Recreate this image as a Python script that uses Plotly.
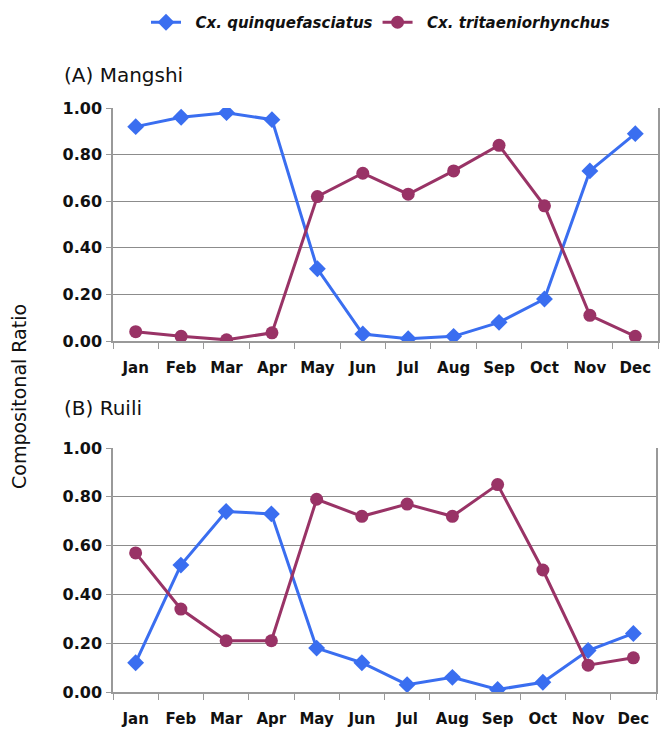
import plotly.graph_objects as go

months = ["Jan", "Feb", "Mar", "Apr", "May", "Jun", "Jul", "Aug", "Sep", "Oct", "Nov", "Dec"]
mangshi_quinq = [0.92, 0.96, 0.98, 0.95, 0.31, 0.03, 0.01, 0.02, 0.08, 0.18, 0.73, 0.89]
mangshi_trit = [0.04, 0.02, 0.005, 0.035, 0.62, 0.72, 0.63, 0.73, 0.84, 0.58, 0.11, 0.02]
ruili_quinq = [0.12, 0.52, 0.74, 0.73, 0.18, 0.12, 0.03, 0.06, 0.01, 0.04, 0.17, 0.24]
ruili_trit = [0.57, 0.34, 0.21, 0.21, 0.79, 0.72, 0.77, 0.72, 0.85, 0.50, 0.11, 0.14]
yticks = [0, 0.2, 0.4, 0.6, 0.8, 1.0]
ytick_labels = ["0.00", "0.20", "0.40", "0.60", "0.80", "1.00"]

BLUE = "#3a6ef0"
PURPLE = "#993366"
W, H = 670, 737
OFF = 8  # page body margin offset
FONT = "DejaVu Sans, Arial, sans-serif"

def py(p):
    return 1 - (p - OFF) / H

def px_(p):
    return (p - OFF) / W

fig = go.Figure()
series = [
    ("x", "y", mangshi_quinq, mangshi_trit, True),
    ("x2", "y2", ruili_quinq, ruili_trit, False),
]
for xa, ya, q, t, show in series:
    fig.add_trace(go.Scatter(x=months, y=q, xaxis=xa, yaxis=ya, mode="lines+markers",
                             name="&nbsp;&nbsp;<b><i>Cx. quinquefasciatus</i></b>", showlegend=show,
                             line=dict(color=BLUE, width=3),
                             marker=dict(symbol="diamond", size=13, color=BLUE)))
    fig.add_trace(go.Scatter(x=months, y=t, xaxis=xa, yaxis=ya, mode="lines+markers",
                             name="&nbsp;&nbsp;<b><i>Cx. tritaeniorhynchus</i></b>", showlegend=show,
                             line=dict(color=PURPLE, width=3),
                             marker=dict(symbol="circle", size=13, color=PURPLE)))

xfont = dict(family=FONT, size=15, color="#111", weight="bold")
yfont = dict(family=FONT, size=16, color="#111", weight="bold")
xcommon = dict(type="category", categoryorder="array", categoryarray=months,
               tickson="boundaries", ticks="outside", ticklen=6, tickcolor="#999",
               showline=True, linecolor="#999", linewidth=1.5, mirror=False,
               showgrid=False, tickfont=xfont, ticklabelstandoff=12,
               range=[-0.5, 11.5], fixedrange=True, automargin=False)
ycommon = dict(range=[0, 1.0], tickvals=yticks, ticktext=ytick_labels,
               ticks="outside", ticklen=5, tickcolor="#999",
               showline=True, linecolor="#999", linewidth=1.5, mirror=True,
               showgrid=True, gridcolor="#8c8c8c", gridwidth=1, zeroline=False,
               tickfont=yfont, ticklabelstandoff=1, automargin=False)

fig.update_layout(
    width=W, height=H,
    margin=dict(l=0, r=0, t=0, b=0, autoexpand=False),
    paper_bgcolor="white", plot_bgcolor="white",
    font=dict(family=FONT, color="#111"),
    xaxis=dict(domain=[px_(113), px_(658)], anchor="y", **xcommon),
    yaxis=dict(domain=[py(341), py(108)], anchor="x", **ycommon),
    xaxis2=dict(domain=[px_(113), px_(656)], anchor="y2", **xcommon),
    yaxis2=dict(domain=[py(692), py(448)], anchor="x2", **ycommon),
    legend=dict(orientation="h", x=px_(146), xanchor="left", y=py(6), yanchor="top",
                font=dict(size=15, family=FONT, color="#111"),
                bgcolor="rgba(0,0,0,0)"),
    annotations=[
        dict(text="(A) Mangshi", x=px_(62), y=py(75), xref="paper", yref="paper",
             xanchor="left", yanchor="middle", showarrow=False,
             font=dict(size=20, family=FONT, color="#111")),
        dict(text="(B) Ruili", x=px_(62), y=py(408), xref="paper", yref="paper",
             xanchor="left", yanchor="middle", showarrow=False,
             font=dict(size=20, family=FONT, color="#111")),
        dict(text="Compositonal Ratio", x=px_(19), y=py(397), xref="paper", yref="paper",
             xanchor="center", yanchor="middle", showarrow=False, textangle=-90,
             font=dict(size=19, family=FONT, color="#111")),
    ],
)

fig.write_html("out.html")
